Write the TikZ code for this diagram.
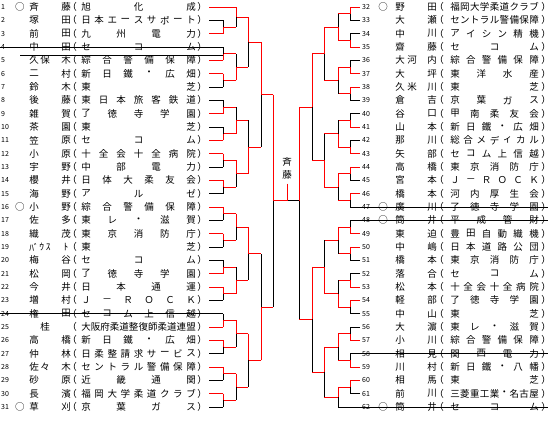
\documentclass[tikz,border=0pt]{standalone}
\usepackage{fontspec}
\newfontfamily\jpfont{Noto Sans CJK JP}
\usetikzlibrary{calc}
\definecolor{bkred}{RGB}{255,0,0}
\tikzset{declare function={ry(\r)=7+(\r-1)*13.333;}}

% one bout: vertical x, outgoing x, top row, bottom row, winner (t/b)
\newcommand\bout[5]{%
  \pgfmathsetmacro\bxT{#3}\pgfmathsetmacro\bxB{#4}\pgfmathsetmacro\bxM{(#3+#4)/2}%
  \if#5t
    \draw[win] (#1,{ry(\bxT)}) -- (#1,{ry(\bxM)}) -- (#2,{ry(\bxM)});
    \draw[lose] (#1,{ry(\bxM)}) -- (#1,{ry(\bxB)});
  \else
    \draw[win] (#1,{ry(\bxB)}) -- (#1,{ry(\bxM)}) -- (#2,{ry(\bxM)});
    \draw[lose] (#1,{ry(\bxM)}) -- (#1,{ry(\bxT)});
  \fi}
% first round: stub x, vertical x, outgoing x, top row, bottom row, winner
\newcommand\fr[6]{%
  \if#6t
    \draw[win] (#1,{ry(#4)}) -- (#2,{ry(#4)});
    \draw[lose] (#1,{ry(#5)}) -- (#2,{ry(#5)});
  \else
    \draw[lose] (#1,{ry(#4)}) -- (#2,{ry(#4)});
    \draw[win] (#1,{ry(#5)}) -- (#2,{ry(#5)});
  \fi
  \bout{#2}{#3}{#4}{#5}{#6}}
% left entry: number, seed, name (3 slots), count, affiliation
\newcommand\lent[7]{%
  \pgfmathsetmacro\ey{ry(#1)}%
  \node[num,anchor=west] (ln#1) at (1,\ey) {#1};
  \node[txt] (ls#1) at (20,\ey) {#2};
  \node[txt] (la#1) at (34,\ey) {#3};
  \node[txt] (lb#1) at (45,\ey) {#4};
  \node[txt] (lc#1) at (66,\ey) {#5};
  \node[txt] (lo#1) at (72,\ey) {（};
  \foreach \c [count=\k] in {#7}
    \node[txt] (lf#1-\k) at ({86+(\k-1)*105/(#6-1)},\ey) {\c};
  \node[txt] (lx#1) at (202,\ey) {）};}
% right entry
\newcommand\rent[7]{%
  \pgfmathsetmacro\ey{ry(#1-31)}%
  \node[num,anchor=west] (rn#1) at (362,\ey) {#1};
  \node[txt] (rs#1) at (383,\ey) {#2};
  \node[txt] (ra#1) at (400,\ey) {#3};
  \node[txt] (rb#1) at (412,\ey) {#4};
  \node[txt] (rc#1) at (432,\ey) {#5};
  \node[txt] (ro#1) at (439,\ey) {（};
  \foreach \c [count=\k] in {#7}
    \node[txt] (rf#1-\k) at ({455+(\k-1)*79/(#6-1)},\ey) {\c};
  \node[txt] (rx#1) at (546,\ey) {）};}

\begin{document}
\begin{tikzpicture}[x=1pt,y=-1pt,
  txt/.style={inner sep=0pt, font=\jpfont\fontsize{9.5}{10}\selectfont},
  num/.style={inner sep=0pt, font=\jpfont\fontsize{7}{7}\selectfont},
  win/.style={draw=bkred, line width=0.9pt},
  lose/.style={draw=black, line width=0.9pt}
]
\useasboundingbox (0,0) rectangle (550,426);

% left entries
\lent{1}{○}{斉}{}{藤}{3}{旭,化,成}
\lent{2}{}{塚}{}{田}{9}{日,本,エ,ー,ス,サ,ポ,ー,ト}
\lent{3}{}{前}{}{田}{4}{九,州,電,力}
\lent{4}{}{中}{}{田}{3}{セ,コ,ム}
\lent{5}{}{久}{保}{木}{6}{綜,合,警,備,保,障}
\lent{6}{}{二}{}{村}{6}{新,日,鐵,・,広,畑}
\lent{7}{}{鈴}{}{木}{2}{東,芝}
\lent{8}{}{後}{}{藤}{7}{東,日,本,旅,客,鉄,道}
\lent{9}{}{雑}{}{賀}{5}{了,徳,寺,学,園}
\lent{10}{}{茶}{}{園}{2}{東,芝}
\lent{11}{}{笠}{}{原}{3}{セ,コ,ム}
\lent{12}{}{小}{}{原}{7}{十,全,会,十,全,病,院}
\lent{13}{}{宇}{}{野}{4}{中,部,電,力}
\lent{14}{}{櫻}{}{井}{6}{日,体,大,柔,友,会}
\lent{15}{}{海}{}{野}{3}{ア,ル,ゼ}
\lent{16}{○}{小}{}{野}{6}{綜,合,警,備,保,障}
\lent{17}{}{佐}{}{多}{5}{東,レ,・,滋,賀}
\lent{18}{}{織}{}{茂}{5}{東,京,消,防,庁}
\lent{19}{}{ﾊﾞ}{ｳ\hspace{2pt}ｽ}{ﾄ}{2}{東,芝}
\lent{20}{}{梅}{}{谷}{3}{セ,コ,ム}
\lent{21}{}{松}{}{岡}{5}{了,徳,寺,学,園}
\lent{22}{}{今}{}{井}{4}{日,本,通,運}
\lent{23}{}{増}{}{村}{6}{Ｊ,－,Ｒ,Ｏ,Ｃ,Ｋ}
\lent{24}{}{権}{}{田}{6}{セ,コ,ム,上,信,越}
\lent{25}{}{}{桂}{}{12}{大,阪,府,柔,道,整,復,師,柔,道,連,盟}
\lent{26}{}{高}{}{橋}{6}{新,日,鐵,・,広,畑}
\lent{27}{}{仲}{}{林}{9}{日,柔,整,請,求,サ,ー,ビ,ス}
\lent{28}{}{佐}{々}{木}{9}{セ,ン,ト,ラ,ル,警,備,保,障}
\lent{29}{}{砂}{}{原}{4}{近,畿,通,関}
\lent{30}{}{長}{}{濱}{9}{福,岡,大,学,柔,道,ク,ラ,ブ}
\lent{31}{○}{草}{}{刈}{4}{京,葉,ガ,ス}

% right entries
\rent{32}{○}{野}{}{田}{9}{福,岡,大,学,柔,道,ク,ラ,ブ}
\rent{33}{}{大}{}{瀬}{9}{セ,ン,ト,ラ,ル,警,備,保,障}
\rent{34}{}{中}{}{川}{6}{ア,イ,シ,ン,精,機}
\rent{35}{}{齋}{}{藤}{3}{セ,コ,ム}
\rent{36}{}{大}{河}{内}{6}{綜,合,警,備,保,障}
\rent{37}{}{大}{}{坪}{4}{東,洋,水,産}
\rent{38}{}{久}{米}{川}{2}{東,芝}
\rent{39}{}{倉}{}{吉}{4}{京,葉,ガ,ス}
\rent{40}{}{谷}{}{口}{5}{甲,南,柔,友,会}
\rent{41}{}{山}{}{本}{6}{新,日,鐵,・,広,畑}
\rent{42}{}{那}{}{川}{7}{総,合,メ,デ,ィ,カ,ル}
\rent{43}{}{矢}{}{部}{6}{セ,コ,ム,上,信,越}
\rent{44}{}{高}{}{橋}{5}{東,京,消,防,庁}
\rent{45}{}{宮}{}{本}{6}{Ｊ,－,Ｒ,Ｏ,Ｃ,Ｋ}
\rent{46}{}{橋}{}{本}{5}{河,内,厚,生,会}
\rent{47}{○}{廣}{}{川}{5}{了,徳,寺,学,園}
\rent{48}{○}{筒}{}{井}{4}{平,成,管,財}
\rent{49}{}{東}{}{迫}{6}{豊,田,自,動,織,機}
\rent{50}{}{中}{}{嶋}{6}{日,本,道,路,公,団}
\rent{51}{}{橋}{}{本}{5}{東,京,消,防,庁}
\rent{52}{}{落}{}{合}{3}{セ,コ,ム}
\rent{53}{}{松}{}{本}{7}{十,全,会,十,全,病,院}
\rent{54}{}{軽}{}{部}{5}{了,徳,寺,学,園}
\rent{55}{}{中}{}{山}{2}{東,芝}
\rent{56}{}{大}{}{濵}{5}{東,レ,・,滋,賀}
\rent{57}{}{小}{}{川}{6}{綜,合,警,備,保,障}
\rent{58}{}{相}{}{見}{4}{関,西,電,力}
\rent{59}{}{川}{}{村}{6}{新,日,鐵,・,八,幡}
\rent{60}{}{相}{}{馬}{2}{東,芝}
\rent{61}{}{前}{}{川}{9}{三,菱,重,工,業,・,名,古,屋}
\rent{62}{○}{筒}{}{井}{3}{セ,コ,ム}

% left bracket
\draw[win] (209,{ry(1)}) -- (236,{ry(1)});
\fr{209}{223}{236}{2}{3}{b}
\bout{236}{248}{1}{2.5}{t}
\fr{209}{223}{236}{4}{5}{b}
\fr{209}{223}{236}{6}{7}{t}
\bout{236}{248}{4.5}{6.5}{b}
\bout{248}{261}{1.75}{5.5}{t}
\fr{209}{223}{236}{8}{9}{b}
\fr{209}{223}{236}{10}{11}{b}
\bout{236}{248}{8.5}{10.5}{b}
\fr{209}{223}{236}{12}{13}{t}
\fr{209}{223}{236}{14}{15}{t}
\bout{236}{248}{12.5}{14.5}{t}
\bout{248}{261}{9.5}{13.5}{b}
\bout{261}{273}{3.625}{11.5}{t}
\fr{209}{223}{236}{16}{17}{t}
\fr{209}{223}{236}{18}{19}{t}
\bout{236}{248}{16.5}{18.5}{t}
\fr{209}{223}{236}{20}{21}{b}
\fr{209}{223}{236}{22}{23}{t}
\bout{236}{248}{20.5}{22.5}{b}
\bout{248}{261}{17.5}{21.5}{t}
\fr{209}{223}{236}{24}{25}{b}
\fr{209}{223}{236}{26}{27}{t}
\bout{236}{248}{24.5}{26.5}{t}
\fr{209}{223}{236}{28}{29}{t}
\fr{209}{223}{236}{30}{31}{t}
\bout{236}{248}{28.5}{30.5}{t}
\bout{248}{261}{25.5}{29.5}{t}
\bout{261}{273}{19.5}{27.5}{b}
\bout{273}{287}{7.5625}{23.5}{t}

% right bracket
\fr{360}{350}{338}{1}{2}{t}
\fr{360}{350}{338}{3}{4}{b}
\bout{338}{324}{1.5}{3.5}{b}
\fr{360}{350}{338}{5}{6}{b}
\fr{360}{350}{338}{7}{8}{t}
\bout{338}{324}{5.5}{7.5}{t}
\bout{324}{312}{2.5}{6.5}{t}
\fr{360}{350}{338}{9}{10}{b}
\fr{360}{350}{338}{11}{12}{b}
\bout{338}{324}{9.5}{11.5}{b}
\fr{360}{350}{338}{13}{14}{t}
\fr{360}{350}{338}{15}{16}{t}
\bout{338}{324}{13.5}{15.5}{t}
\bout{324}{312}{10.5}{14.5}{b}
\bout{312}{299}{4.5}{12.5}{t}
\fr{360}{350}{338}{17}{18}{b}
\fr{360}{350}{338}{19}{20}{t}
\bout{338}{324}{17.5}{19.5}{t}
\fr{360}{350}{338}{21}{22}{b}
\fr{360}{350}{338}{23}{24}{t}
\bout{338}{324}{21.5}{23.5}{b}
\bout{324}{312}{18.5}{22.5}{b}
\fr{360}{350}{338}{25}{26}{b}
\fr{360}{350}{338}{27}{28}{b}
\bout{338}{324}{25.5}{27.5}{t}
\fr{360}{350}{338}{29}{30}{t}
\draw[lose] (360,{ry(31)}) -- (338,{ry(31)});
\bout{338}{324}{29.5}{31}{t}
\bout{324}{312}{26.5}{30.25}{t}
\bout{312}{299}{20.5}{28.375}{t}

% final
\draw[lose] (287,{ry(15.53125)}) -- (299,{ry(15.53125)});
\draw[win] (299,{ry(8.5)}) -- (299,{ry(15.53125)});
\draw[lose] (299,{ry(15.53125)}) -- (299,{ry(24.4375)});
\node[txt] (chA) at (287,162) {斉};
\node[txt] (chB) at (287,175) {藤};
\draw[win] (chB.south) ++(0,4) -- (287,{ry(15.53125)});

% withdrawn
\foreach \r in {4,24}
  \draw[lose] (0,{ry(\r)}) -- (223,{ry(\r)});
\draw[lose] (20,55) -- (223,55);
\foreach \r in {47,48,58}
  \draw[lose] (350,{ry(\r-31)}) -- (548,{ry(\r-31)});
\draw[lose] (338,{ry(31)}) -- (548,{ry(31)});
\end{tikzpicture}
\end{document}
